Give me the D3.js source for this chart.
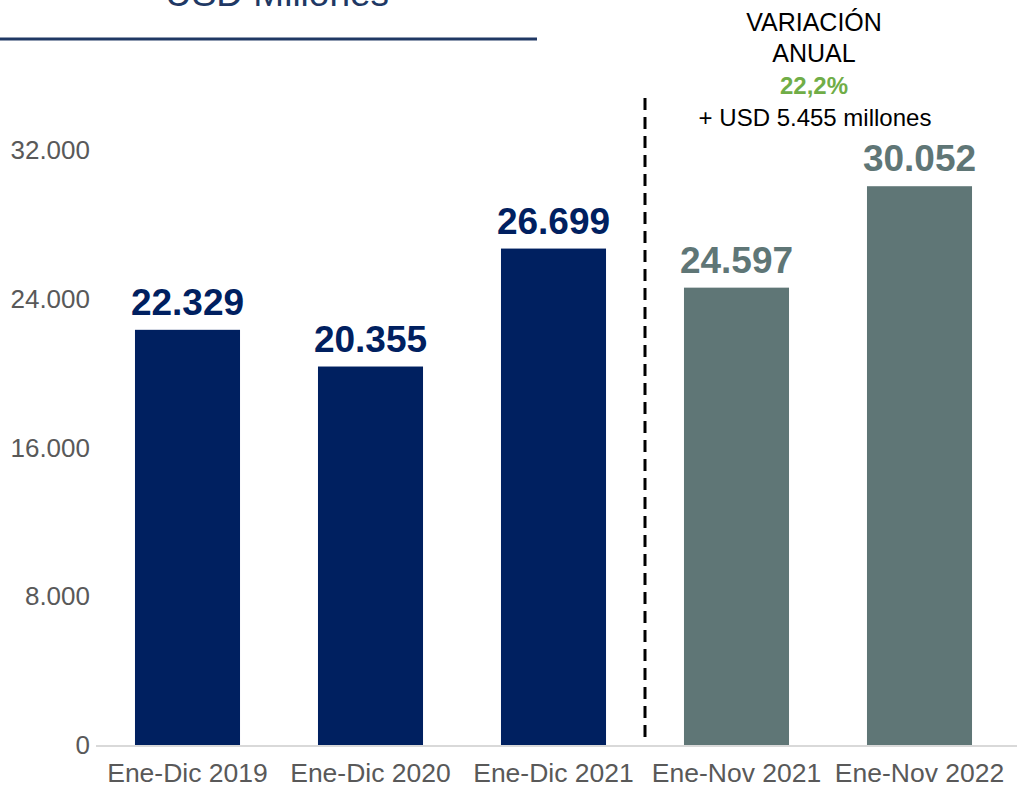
<!DOCTYPE html>
<html>
<head>
<meta charset="utf-8">
<script src="https://cdn.jsdelivr.net/npm/d3@7"></script>
<style>
  body { margin: 0; background: #fff; }
  svg { font-family: "Liberation Sans", Arial, sans-serif; }
</style>
</head>
<body>
<div id="grafico"></div>
<script>
// Datos
const categorias = ["Ene-Dic 2019", "Ene-Dic 2020", "Ene-Dic 2021", "Ene-Nov 2021", "Ene-Nov 2022"];
const valores = [22329, 20355, 26699, 24597, 30052];
const colores = ["#002060", "#002060", "#002060", "#5F7676", "#5F7676"];
const ticksY = [0, 8000, 16000, 24000, 32000];
const notaVariacion = ["VARIACIÓN", "ANUAL", "22,2%", "+ USD 5.455 millones"];

const width = 1017, height = 788;
const fmt = d3.format(",d");
const es = d => fmt(d).replace(/,/g, ".");

const svg = d3.select("#grafico")
  .append("svg")
    .attr("width", width)
    .attr("height", height);

const x = d3.scaleBand()
  .domain(categorias)
  .range([96, 1011])
  .paddingInner(0.426)
  .paddingOuter(0.213);

const y = d3.scaleLinear()
  .domain([0, 32000])
  .range([745, 150]);

// Titulo cortado arriba
svg.append("text")
  .attr("x", 277)
  .attr("y", 6)
  .attr("text-anchor", "middle")
  .attr("font-size", 37)
  .attr("fill", "#203864")
  .text("USD Millones");

svg.append("line")
  .attr("x1", 0).attr("x2", 537)
  .attr("y1", 39).attr("y2", 39)
  .attr("stroke", "#203864")
  .attr("stroke-width", 3);

// Eje Y (solo etiquetas)
svg.selectAll(".tickY")
  .data(ticksY)
  .enter().append("text")
    .attr("x", 90)
    .attr("y", d => y(d) + 9)
    .attr("text-anchor", "end")
    .attr("font-size", 26)
    .attr("fill", "#595959")
    .text(d => es(d));

// Barras
svg.selectAll(".barra")
  .data(valores)
  .enter().append("rect")
    .attr("x", (d, i) => x(categorias[i]))
    .attr("y", d => y(d))
    .attr("width", x.bandwidth())
    .attr("height", d => y(0) - y(d))
    .attr("fill", (d, i) => colores[i]);

// Etiquetas de valor
svg.selectAll(".valor")
  .data(valores)
  .enter().append("text")
    .attr("x", (d, i) => x(categorias[i]) + x.bandwidth() / 2)
    .attr("y", d => y(d) - 15)
    .attr("text-anchor", "middle")
    .attr("font-size", 37)
    .attr("font-weight", "bold")
    .attr("fill", (d, i) => colores[i])
    .text(d => es(d));

// Linea base
svg.append("line")
  .attr("x1", 96).attr("x2", 1017)
  .attr("y1", y(0) + 1).attr("y2", y(0) + 1)
  .attr("stroke", "#d9d9d9")
  .attr("stroke-width", 2);

// Etiquetas de categoria
svg.selectAll(".cat")
  .data(categorias)
  .enter().append("text")
    .attr("x", d => x(d) + x.bandwidth() / 2)
    .attr("y", 782)
    .attr("text-anchor", "middle")
    .attr("font-size", 26.5)
    .attr("fill", "#595959")
    .text(d => d);

// Separador punteado
const xSep = (x(categorias[2]) + x.bandwidth() + x(categorias[3])) / 2;
svg.append("line")
  .attr("x1", xSep).attr("x2", xSep)
  .attr("y1", 98).attr("y2", 743)
  .attr("stroke", "#000")
  .attr("stroke-width", 3)
  .attr("stroke-dasharray", "12,7");

// Nota de variacion
const notaY = [31, 62, 94, 126];
svg.selectAll(".nota")
  .data(notaVariacion)
  .enter().append("text")
    .attr("x", (d, i) => i === 3 ? 815 : 814)
    .attr("y", (d, i) => notaY[i])
    .attr("text-anchor", "middle")
    .attr("font-size", (d, i) => i < 2 ? 25 : 24)
    .attr("font-weight", (d, i) => i === 2 ? "bold" : "normal")
    .attr("fill", (d, i) => i === 2 ? "#70AD47" : "#000")
    .text(d => d);
</script>
</body>
</html>
